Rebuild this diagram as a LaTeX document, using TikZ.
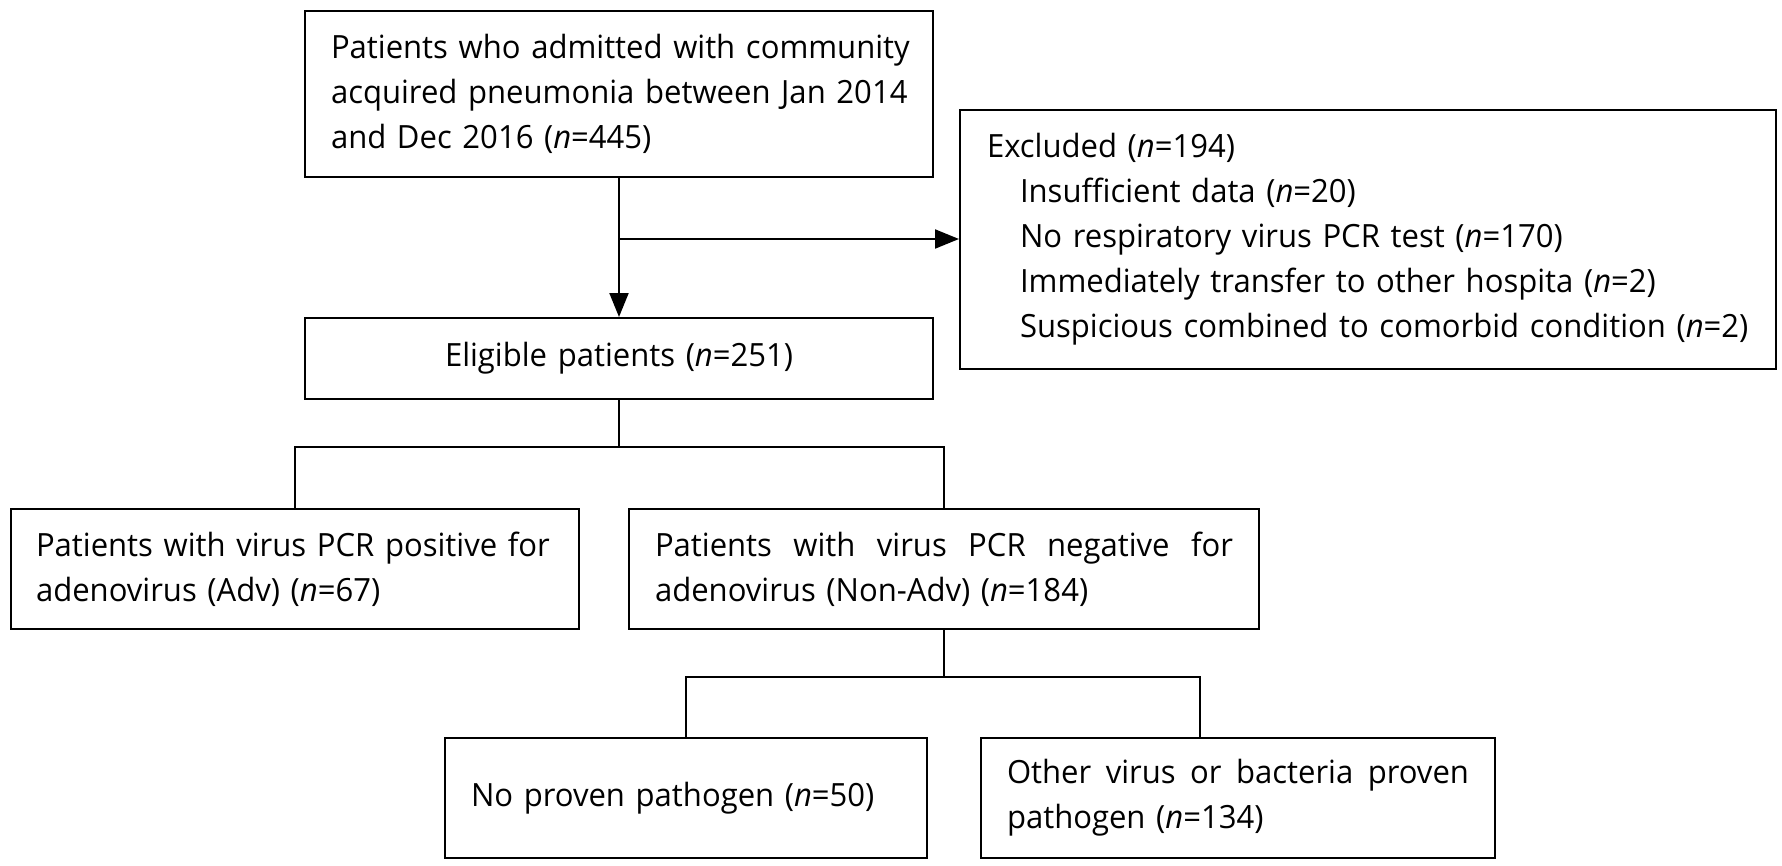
\documentclass[tikz,border=0pt]{standalone}
\usepackage{fontspec}
\setmainfont[FakeStretch=0.97]{Open Sans}
\usetikzlibrary{arrows.meta}
\begin{document}
\begin{tikzpicture}[x=1pt,y=-1pt,
  box/.style={draw=black,line width=2pt,inner ysep=0pt,anchor=north west,font=\fontsize{32}{45}\selectfont},
  conn/.style={draw=black,line width=2pt},
  arr/.style={conn,-{Triangle[length=24pt,width=19pt]}}]
\useasboundingbox (0,0) rectangle (1782,865);
\fill[white] (0,0) rectangle (1782,865);

\node[box,minimum width=628pt,minimum height=166pt,text width=576pt,inner xsep=26pt,align=left] (b1) at (304,10)
  {\mbox{Patients who admitted with community}\\\mbox{acquired pneumonia between Jan 2014}\\\mbox{and Dec 2016 (\textit{n}=445)}};

\node[box,minimum width=816pt,minimum height=259pt,text width=762pt,inner xsep=27pt,align=left] (excl) at (959,109)
  {\mbox{Excluded (\textit{n}=194)}\\
   \mbox{\hspace*{33pt}Insufficient data (\textit{n}=20)}\\
   \mbox{\hspace*{33pt}No respiratory virus PCR test (\textit{n}=170)}\\
   \mbox{\hspace*{33pt}Immediately transfer to other hospita (\textit{n}=2)}\\
   \mbox{\hspace*{33pt}Suspicious combined to comorbid condition (\textit{n}=2)}};

\node[box,minimum width=628pt,minimum height=81pt,text width=576pt,inner xsep=26pt,align=center] (elig) at (304,317)
  {\mbox{Eligible patients (\textit{n}=251)}};

\node[box,minimum width=568pt,minimum height=120pt,text width=518pt,inner xsep=25pt,align=left] (adv) at (10,508)
  {\mbox{Patients with virus PCR positive for}\\\mbox{adenovirus (Adv) (\textit{n}=67)}};

\node[box,minimum width=630pt,minimum height=120pt,text width=578pt,inner xsep=26pt,align=left] (nonadv) at (628,508)
  {\hbox to 578pt{Patients\hfill with\hfill virus\hfill PCR\hfill negative\hfill for}\\\mbox{adenovirus (Non-Adv) (\textit{n}=184)}};

\node[box,minimum width=482pt,minimum height=120pt,text width=430pt,inner xsep=26pt,align=left] (nop) at (444,737)
  {\mbox{No proven pathogen (\textit{n}=50)}};

\node[box,minimum width=514pt,minimum height=120pt,text width=462pt,inner xsep=26pt,align=left] (oth) at (980,737)
  {\hbox to 462pt{Other\hfill virus\hfill or\hfill bacteria\hfill proven}\\\mbox{pathogen (\textit{n}=134)}};

\draw[arr] (b1.south) -- (elig.north);
\coordinate (j1) at (b1.south |- 0,239);
\draw[arr] (j1) -- (j1 -| excl.west);

\coordinate (j2) at (elig.south |- 0,447);
\draw[conn] (elig.south) -- (j2);
\draw[conn] (adv.north) |- (j2) -| (nonadv.north);

\coordinate (j3) at (nonadv.south |- 0,677);
\coordinate (j4) at (1200,677);
\draw[conn] (nonadv.south) -- (j3);
\draw[conn] (nop.north) |- (j3) -- (j4) -- (j4 |- oth.north);
\end{tikzpicture}
\end{document}
